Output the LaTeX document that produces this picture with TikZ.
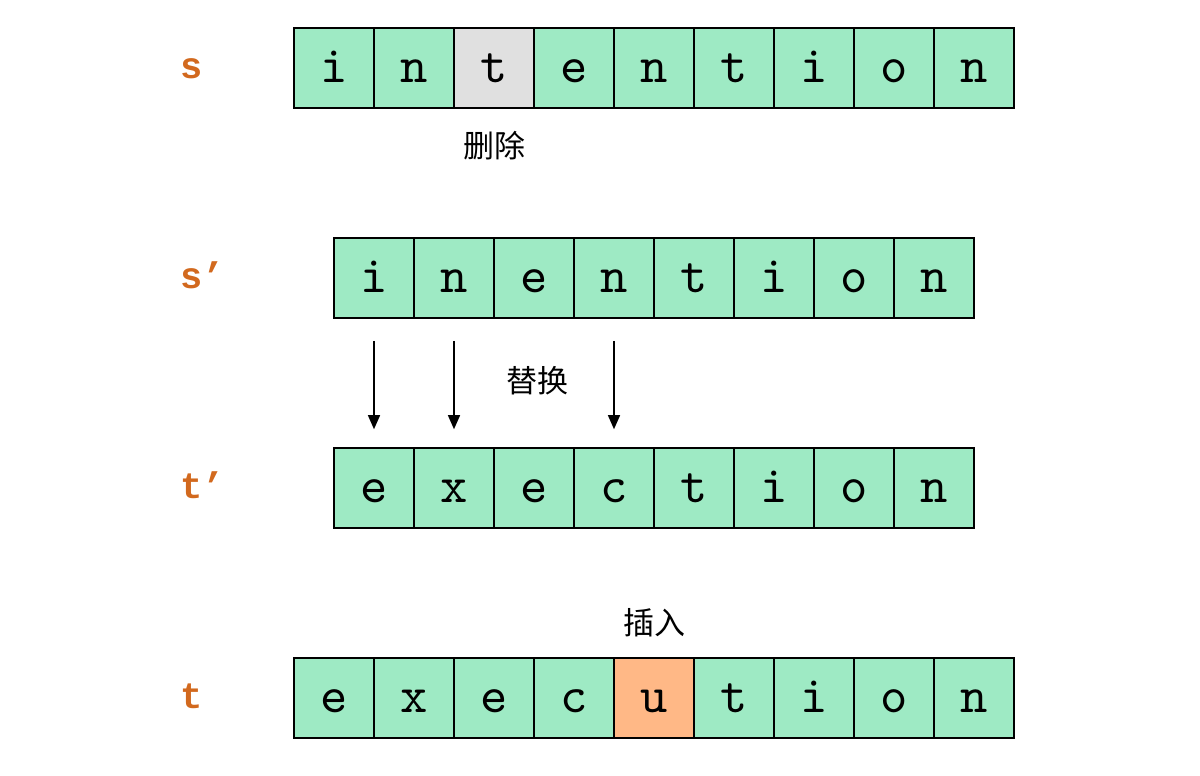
\documentclass[tikz,border=0pt]{standalone}
\usepackage{fontspec}
\newfontfamily\monofont{Liberation Mono}
\newfontfamily\cellfont{lmmono10-regular.otf}
\newfontfamily\cjk{Noto Sans CJK SC}
\usetikzlibrary{arrows.meta,positioning}
\definecolor{cellgreen}{HTML}{9EEAC4}
\definecolor{cellgrey}{HTML}{E0E0E0}
\definecolor{cellorange}{HTML}{FFB886}
\definecolor{labelorange}{HTML}{D2691E}

\begin{document}
\begin{tikzpicture}[x=1pt, y=-1pt,
    cell/.style={draw, line width=1.6pt, fill=cellgreen, minimum size=80pt, inner sep=0pt,
      text height=30pt, text depth=2pt, font=\cellfont\fontsize{52}{52}\selectfont},
    rowlabel/.style={anchor=base west, inner sep=0pt, text=labelorange,
      font=\monofont\bfseries\fontsize{37}{37}\selectfont},
    opnote/.style={font=\cjk\fontsize{31}{31}\selectfont, inner sep=0pt},
    replace/.style={-{Triangle[length=14pt,width=12pt]}, line width=1.4pt,
      shorten <=22pt, shorten >=18pt}]
    \useasboundingbox (0,0) rectangle (1200,776);

    % s
    \foreach \ch [count=\xi] in {i,n,t,e,n,t,i,o,n}{
      \node[cell] (s1-\xi) at (254+80*\xi,68) {\ch};
    }
    \node[cell, fill=cellgrey] at (s1-3) {t};
    \node[opnote, below=22pt of s1-3] (del) {删除};

    % s'
    \foreach \ch [count=\xi] in {i,n,e,n,t,i,o,n}{
      \node[cell] (s2-\xi) at (294+80*\xi,278) {\ch};
    }

    % t'
    \foreach \ch [count=\xi] in {e,x,e,c,t,i,o,n}{
      \node[cell] (t2-\xi) at (294+80*\xi,488) {\ch};
    }
    \foreach \ii in {1,2,4}{
      \draw[replace] (s2-\ii.south) -- (t2-\ii.north);
    }
    \node[opnote] (rep) at (537,381) {替换};

    % t
    \foreach \ch [count=\xi] in {e,x,e,c,u,t,i,o,n}{
      \node[cell] (t1-\xi) at (254+80*\xi,698) {\ch};
    }
    \node[cell, fill=cellorange] at (t1-5) {u};
    \node[opnote, above=20pt of t1-5] (ins) {插入};

    \node[rowlabel] (ls1) at (180,78) {s};
    \node[rowlabel] (ls2) at (180,288) {s’};
    \node[rowlabel] (lt2) at (180,498) {t’};
    \node[rowlabel] (lt1) at (180,708) {t};
  \end{tikzpicture}
\end{document}
